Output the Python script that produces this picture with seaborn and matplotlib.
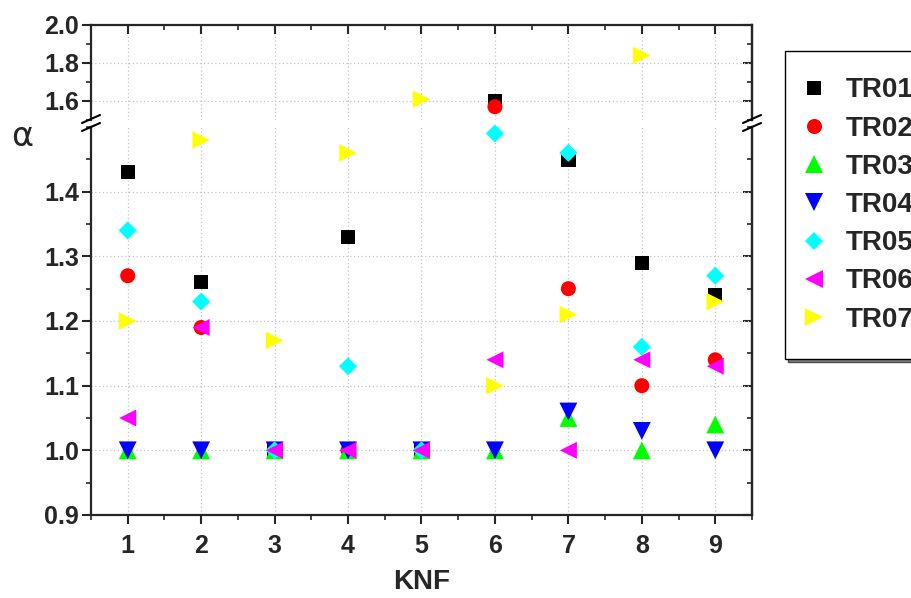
import matplotlib
matplotlib.use('Agg')
import matplotlib.pyplot as plt
from matplotlib.lines import Line2D
from matplotlib.ticker import MultipleLocator
import pandas as pd
import seaborn as sns

# data
knf = [1, 2, 3, 4, 5, 6, 7, 8, 9]
series = ['TR01', 'TR02', 'TR03', 'TR04', 'TR05', 'TR06', 'TR07']
tr01 = [1.43, 1.26, 1.00, 1.33, 1.00, 1.60, 1.45, 1.29, 1.24]
tr02 = [1.27, 1.19, 1.00, 1.00, 1.00, 1.57, 1.25, 1.10, 1.14]
tr03 = [1.00, 1.00, 1.00, 1.00, 1.00, 1.00, 1.05, 1.00, 1.04]
tr04 = [1.00, 1.00, 1.00, 1.00, 1.00, 1.00, 1.06, 1.03, 1.00]
tr05 = [1.34, 1.23, 1.00, 1.13, 1.00, 1.49, 1.46, 1.16, 1.27]
tr06 = [1.05, 1.19, 1.00, 1.00, 1.00, 1.14, 1.00, 1.14, 1.13]
tr07 = [1.20, 1.48, 1.17, 1.46, 1.61, 1.10, 1.21, 1.84, 1.23]

colors = ['#000000', '#ff0000', '#00ff00', '#0000ff', '#00ffff', '#ff00ff', '#ffff00']
markers = ['s', 'o', '^', 'v', 'D', '<', '>']
areas = [108, 117, 165, 165, 85, 150, 160]

values = [tr01, tr02, tr03, tr04, tr05, tr06, tr07]
df = pd.concat([pd.DataFrame({'KNF': knf, 'alpha': v, 'series': s})
                for s, v in zip(series, values)], ignore_index=True)

sns.set_style('ticks')
plt.rcParams['font.family'] = ['Liberation Sans', 'DejaVu Sans']
plt.rcParams['font.weight'] = 'bold'

W, H = 912, 598
fig = plt.figure(figsize=(W / 100, H / 100), dpi=100)

left, right = 91, 752
ax_up = fig.add_axes([left / W, 1 - 120 / H, (right - left) / W, 95 / H])
ax_lo = fig.add_axes([left / W, 1 - 515 / H, (right - left) / W, 388 / H])

split = 1.53
pal = dict(zip(series, colors))
mk = dict(zip(series, markers))
sz = dict(zip(series, areas))

for ax, part in [(ax_up, df[df['alpha'] >= split]), (ax_lo, df[df['alpha'] < split])]:
    sns.scatterplot(data=part, x='KNF', y='alpha', hue='series', style='series',
                    size='series', hue_order=series, style_order=series,
                    size_order=series, palette=pal, markers=mk, sizes=sz,
                    linewidth=0, legend=False, ax=ax, clip_on=False, zorder=3)
    ax.set_xlim(0.5, 9.5)
    ax.set_xlabel('')
    ax.set_ylabel('')
    ax.set_axisbelow(True)
    ax.grid(True, which='major', color='#c4c4c4', linestyle=(0, (1, 2)), linewidth=0.9)
    for sp in ax.spines.values():
        sp.set_linewidth(1.6)
    ax.xaxis.set_major_locator(MultipleLocator(1))
    ax.xaxis.set_minor_locator(MultipleLocator(0.5))
    ax.tick_params(which='major', length=6.5, width=1.5, labelsize=18, pad=2)
    ax.tick_params(which='minor', length=3.5, width=1.2)
    ax.tick_params(axis='y', direction='out')

ax_up.set_ylim(1.5, 2.0)
ax_up.set_yticks([1.6, 1.8, 2.0])
ax_up.yaxis.set_minor_locator(MultipleLocator(0.1))
ax_up.spines['bottom'].set_visible(False)
ax_up.xaxis.set_ticks_position('top')
ax_up.tick_params(axis='x', which='both', direction='in', labeltop=False, labelbottom=False)

ax_lo.set_ylim(0.9, 1.5)
ax_lo.set_yticks([0.9, 1.0, 1.1, 1.2, 1.3, 1.4])
ax_lo.yaxis.set_minor_locator(MultipleLocator(0.05))
ax_lo.spines['top'].set_visible(False)
ax_lo.xaxis.set_ticks_position('bottom')
ax_lo.tick_params(axis='x', which='both', direction='out')
ax_lo.tick_params(axis='x', which='major', pad=7)
ax_lo.set_xlabel('KNF', fontsize=20, fontweight='bold', labelpad=8)

for ax in (ax_up, ax_lo):
    ax.yaxis.set_major_formatter(plt.FormatStrFormatter('%.1f'))
    for lab in ax.get_yticklabels() + ax.get_xticklabels():
        lab.set_fontweight('bold')
    sec = ax.secondary_yaxis('right')
    sec.set_yticks(ax.get_yticks())
    sec.yaxis.set_minor_locator(MultipleLocator(0.1 if ax is ax_up else 0.05))
    sec.tick_params(which='major', direction='in', length=6.5, width=1.5, labelright=False)
    sec.tick_params(which='minor', direction='in', length=3.5, width=1.2)
    sec.spines['right'].set_linewidth(1.6)
ax_up.set_ylim(1.5, 2.0)
ax_lo.set_ylim(0.9, 1.5)

# axis break marks on both sides
for xc in (left, right):
    for dy in (0, 8):
        fig.add_artist(Line2D([(xc - 9) / W, (xc + 9) / W],
                              [1 - (123 + dy) / H, 1 - (115 + dy) / H],
                              transform=fig.transFigure, color='black', lw=1.5))

fig.text(22 / W, 1 - 136 / H, 'α', fontsize=24, fontweight='normal',
         ha='center', va='center', family=['DejaVu Sans'])

handles = [Line2D([], [], linestyle='none', marker=m, color=c, markeredgewidth=0,
                  markersize=a ** 0.5) for m, c, a in zip(markers, colors, areas)]
fig.legend(handles, series, loc='upper left', bbox_to_anchor=(785 / W, 1 - 51 / H),
           frameon=True, fancybox=False, edgecolor='black', framealpha=1,
           shadow={'facecolor': '#808080', 'alpha': 1},
           prop={'size': 20, 'weight': 'bold'}, labelspacing=0.44,
           handlelength=0.2, handletextpad=1.05, borderpad=0.95, borderaxespad=0)

fig.savefig('out.png', dpi=100)
